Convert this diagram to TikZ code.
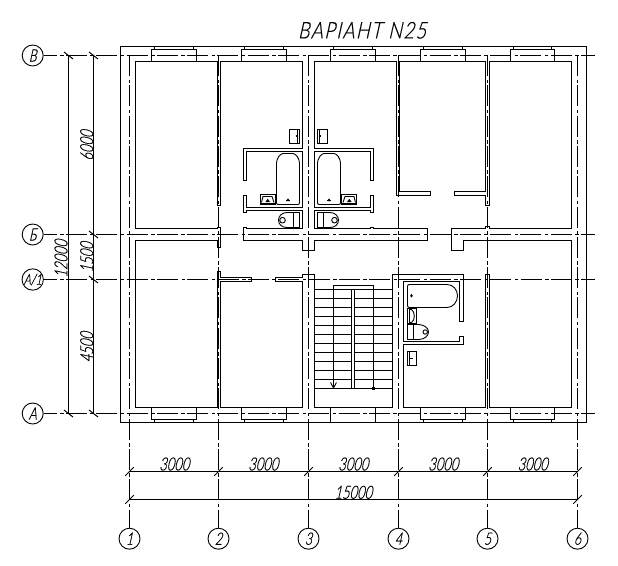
\documentclass[tikz,border=0pt]{standalone}
\usepackage{fontspec}
\setmainfont{Lato Light}[FakeSlant=0.22,FakeStretch=0.72,FakeBold=0.4]
\newfontfamily\titlefont{Lato Light}[FakeSlant=0.22,FakeStretch=0.8,LetterSpace=6,FakeBold=0.4]
\tikzset{
  wall/.style={line width=1pt,line join=miter},
  fix/.style={line width=0.9pt},
  axisline/.style={line width=1pt,dash pattern=on 21pt off 3.5pt on 3.5pt off 2.3pt},
  dimline/.style={line width=1pt},
  circ/.style={circle,draw,line width=0.9pt,minimum size=21pt,inner sep=0pt,font=\fontsize{17}{17}\selectfont},
  dimtext/.style={inner sep=0pt,font=\fontsize{18}{18}\selectfont},
}
\newcommand{\tickH}[2]{\draw[dimline] (#1-4.3,#2+4.3) -- (#1+4.3,#2-4.3);}
\newcommand{\tickV}[2]{\draw[dimline] (#1-4.5,#2-3.5) -- (#1+4.5,#2+3.5);}
\newcommand{\windowbox}[3]{%
  \draw[wall] (#1,61.5) -- (#1,49.5) -- (#2,49.5) -- (#2,61.5);
  \draw[wall] (#1+3,49.5) -- (#1+3,46.5) (#2-3,49.5) -- (#2-3,46.5);
  \ifnum#3=1
    \draw[wall] (#1,407.5) -- (#1,419.5) -- (#2,419.5) -- (#2,407.5);
    \draw[wall] (#1+3,419.5) -- (#1+3,422.5) (#2-3,419.5) -- (#2-3,422.5);
  \else
    \draw[wall] (#1,407.5) -- (#1,422.5) (#2,407.5) -- (#2,422.5);
  \fi}
\newcommand{\wetunit}{%
  % bath
  \draw[fix] (278.5,204.5) -- (297.5,204.5) .. controls (299,204.5) and (299.5,204) .. (299.5,202.5)
    -- (299.5,163) .. controls (299.5,159) and (296,153.5) .. (293,153.5) -- (283,153.5)
    .. controls (280,153.5) and (276.5,159) .. (276.5,163) -- (276.5,202.5)
    .. controls (276.5,204) and (277,204.5) .. (278.5,204.5);
  \fill (288,198.3) -- (289.2,200) -- (288,201.7) -- (286.8,200) -- cycle;
  \draw[fix] (286,200) -- (290,200);
  % sink
  \draw[fix] (260.5,194.5) rectangle (275.5,204.5);
  \draw[fix] (260.5,203) -- (275.5,203);
  \draw[fix] (261.5,202.5) -- (263,196.5) -- (272,196.5) -- (274,202.5);
  \fill (267.7,198.8) -- (270,202) -- (265.4,202) -- cycle;
  % toilet
  \draw[fix] (293.5,212.5) rectangle (299.5,227.5);
  \draw[fix] (299.5,212.5) -- (287,212.5) .. controls (282,212.5) and (278.5,216) .. (278.5,220.2)
    .. controls (278.5,224.5) and (282,227.5) .. (287,227.5) -- (299.5,227.5);
  \draw[fix] (282.5,220.2) circle (2.8);
  % basin
  \draw[fix] (289.5,129.5) rectangle (299.5,143.5);
  \draw[fix] (297.5,129.5) -- (297.5,143.5);
  \fill (296.6,136) circle (1);
}
\begin{document}
\begin{tikzpicture}[x=1pt,y=-1pt]
\useasboundingbox (0,0) rectangle (618,565);
\fill[white] (0,0) rectangle (618,565);
% outer wall
\draw[wall] (120.5,46.5) rectangle (586.5,422.5);
% rooms: one continuous inner contour
\draw[wall] (217.5,228.5) -- (135.5,228.5) -- (135.5,61.5) -- (217.5,61.5) -- (217.5,205.5) -- (220.5,205.5) -- (220.5,61.5)
  -- (302.5,61.5) -- (302.5,148.5) -- (243.5,148.5) -- (243.5,180.5) -- (246.5,180.5) -- (246.5,151.5) -- (302.5,151.5)
  -- (302.5,207.5) -- (246.5,207.5) -- (246.5,195.5) -- (243.5,195.5) -- (243.5,212.5) -- (246.5,212.5) -- (246.5,210.5)
  -- (302.5,210.5) -- (302.5,228.5) -- (246.5,228.5) -- (246.5,227.5) -- (243.5,227.5) -- (243.5,240.5) -- (302.5,240.5)
  -- (302.5,250.5) -- (314.5,250.5) -- (314.5,240.5) -- (427.5,240.5) -- (427.5,228.5) -- (373.5,228.5) -- (373.5,227.5)
  -- (370.5,227.5) -- (370.5,228.5) -- (314.5,228.5) -- (314.5,210.5) -- (370.5,210.5) -- (370.5,212.5) -- (373.5,212.5)
  -- (373.5,195.5) -- (370.5,195.5) -- (370.5,207.5) -- (314.5,207.5) -- (314.5,151.5) -- (370.5,151.5) -- (370.5,180.5)
  -- (373.5,180.5) -- (373.5,148.5) -- (314.5,148.5) -- (314.5,61.5) -- (396.5,61.5) -- (396.5,195.5) -- (430.5,195.5)
  -- (430.5,191.5) -- (399.5,191.5) -- (399.5,61.5) -- (485.5,61.5) -- (485.5,191.5) -- (454.5,191.5) -- (454.5,195.5)
  -- (485.5,195.5) -- (485.5,205.5) -- (489.5,205.5) -- (489.5,61.5) -- (571.5,61.5) -- (571.5,228.5) -- (489.5,228.5)
  -- (489.5,226.5) -- (485.5,226.5) -- (485.5,228.5) -- (451.5,228.5) -- (451.5,250.5) -- (463.5,250.5) -- (463.5,240.5)
  -- (571.5,240.5) -- (571.5,407.5) -- (489.5,407.5) -- (489.5,274.5) -- (485.5,274.5) -- (485.5,407.5) -- (403.5,407.5)
  -- (403.5,344.5) -- (463.5,344.5) -- (463.5,336.5) -- (459.5,336.5) -- (459.5,341.5) -- (403.5,341.5) -- (403.5,281.5)
  -- (459.5,281.5) -- (459.5,321.5) -- (463.5,321.5) -- (463.5,274.5) -- (392.5,274.5) -- (392.5,407.5) -- (314.5,407.5)
  -- (314.5,274.5) -- (302.5,274.5) -- (302.5,277.5) -- (275.5,277.5) -- (275.5,281.5) -- (302.5,281.5) -- (302.5,407.5)
  -- (220.5,407.5) -- (220.5,281.5) -- (251.5,281.5) -- (251.5,277.5) -- (220.5,277.5) -- (220.5,271.5) -- (217.5,271.5)
  -- (217.5,407.5) -- (135.5,407.5) -- (135.5,240.5) -- (217.5,240.5) -- (217.5,247.5) -- (220.5,247.5) -- (220.5,227.5)
  -- (217.5,227.5) -- cycle;
% windows
\windowbox{151.5}{196.5}{1}
\windowbox{241.5}{286.5}{1}
\windowbox{330.5}{375.5}{0}
\windowbox{420.5}{465.5}{1}
\windowbox{510.5}{554.5}{1}
% stairs
\foreach \yy in {289.5,298.5,...,379.6}{
  \draw[fix] (314.5,\yy) -- (351.5,\yy) (354.5,\yy) -- (392.5,\yy);
}
\draw[fix] (314.5,388.5) -- (392.5,388.5);
\draw[fix] (351.5,289.5) rectangle (354.5,388.5);
\draw[fix] (333.5,388.5) -- (333.5,285.5) -- (373.5,285.5) -- (373.5,388.5);
\draw[fix] (330.5,382.5) -- (333.5,388) -- (336.5,382.5);
\fill (372,387) rectangle (375,390);
% wet units by the central axis
\wetunit
\begin{scope}[xshift=617pt,xscale=-1]
\wetunit
\end{scope}
% right bathroom
\draw[fix] (409.5,284.5) -- (447,284.5) .. controls (453,284.5) and (457.5,289.5) .. (457.5,295.8)
  .. controls (457.5,302) and (453,307.5) .. (447,307.5) -- (409.5,307.5) .. controls (408,307.5) and (407.5,306.6) .. (407.5,305.5)
  -- (407.5,286.5) .. controls (407.5,285) and (408,284.5) .. (409.5,284.5);
\fill (411.5,293.8) -- (412.8,295.7) -- (411.5,297.6) -- (410.2,295.7) -- cycle;
\draw[fix] (407.5,308.5) rectangle (416.5,323.5);
\draw[fix] (409.5,308.5) -- (409.5,323.5);
\draw[fix] (409.5,309.5) -- (411.5,309.5) .. controls (415,311.5) and (415.5,320.5) .. (411.5,322.5) -- (409.5,322.5);
\draw[fix] (407.5,324.5) rectangle (413.5,339.5);
\draw[fix] (413.5,324.5) -- (419,324.5) .. controls (424.5,325) and (428.5,328) .. (428.5,332)
  .. controls (428.5,336) and (424.5,339.2) .. (419,339.5) -- (413.5,339.5);
\draw[fix] (425.2,332) circle (2.2);
\draw[fix] (407.5,351.5) rectangle (416.5,365.5);
\draw[fix] (409.5,351.5) -- (409.5,365.5);
\draw[fix] (409.5,358.5) -- (412.5,358.5);
% axes
\node[circ] (cV) at (32.7,55.5) {В};
\node[circ] (cB) at (32.7,234.5) {Б};
\node[circ,font=\fontsize{15}{15}\selectfont] (cAI) at (32.7,279.5) {А/1};
\node[circ] (cA) at (32.7,413.5) {А};
\node[circ] (c1) at (129.5,538.7) {1};
\node[circ] (c2) at (218.5,538.7) {2};
\node[circ] (c3) at (308.5,538.7) {3};
\node[circ] (c4) at (398.5,538.7) {4};
\node[circ] (c5) at (487.5,538.7) {5};
\node[circ] (c6) at (577.5,538.7) {6};
\coordinate (eV) at (595,55.5);
\coordinate (eB) at (595,234.5);
\coordinate (eAI) at (595,279.5);
\coordinate (eA) at (595,413.5);
\foreach \n in {V,B,AI,A}{
  \draw[axisline,dash phase=8pt] (c\n) -- (e\n);
}
\coordinate (t1) at (129.5,55);
\coordinate (t2) at (218.5,55);
\coordinate (t3) at (308.5,55);
\coordinate (t4) at (398.5,55);
\coordinate (t5) at (487.5,55);
\coordinate (t6) at (577.5,55);
\foreach \n in {1,...,6}{
  \draw[axisline] (t\n) -- (c\n);
}
% vertical dimensions
\draw[dimline] (68.5,55.5) -- (68.5,413.5);
\draw[dimline] (93.5,55.5) -- (93.5,413.5);
\tickV{68.5}{55.5}\tickV{68.5}{413.5}
\tickV{93.5}{55.5}\tickV{93.5}{234.5}\tickV{93.5}{279.5}\tickV{93.5}{413.5}
\node[dimtext,rotate=90] (d12000) at (61,258.8) {12000};
\node[dimtext,rotate=90] (d6000) at (86.7,145.5) {6000};
\node[dimtext,rotate=90] (d1500) at (86.7,257.3) {1500};
\node[dimtext,rotate=90] (d4500) at (86.7,347.2) {4500};
% horizontal dimensions
\draw[dimline] (129.5,471.5) -- (577.5,471.5);
\draw[dimline] (129.5,499.5) -- (577.5,499.5);
\foreach \xx in {129.5,218.5,308.5,398.5,487.5,577.5}{ \tickH{\xx}{471.5} }
\tickH{129.5}{499.5}\tickH{577.5}{499.5}
\node[dimtext] (h1) at (174.3,464) {3000};
\node[dimtext] (h2) at (263.3,464) {3000};
\node[dimtext] (h3) at (353.3,464) {3000};
\node[dimtext] (h4) at (443.3,464) {3000};
\node[dimtext] (h5) at (532.7,464) {3000};
\node[dimtext] (ht) at (353.3,492.3) {15000};
\node[inner sep=0pt,font=\titlefont\fontsize{23}{23}\selectfont] (title) at (362,30.3) {ВАРІАНТ N25};
\end{tikzpicture}
\end{document}
